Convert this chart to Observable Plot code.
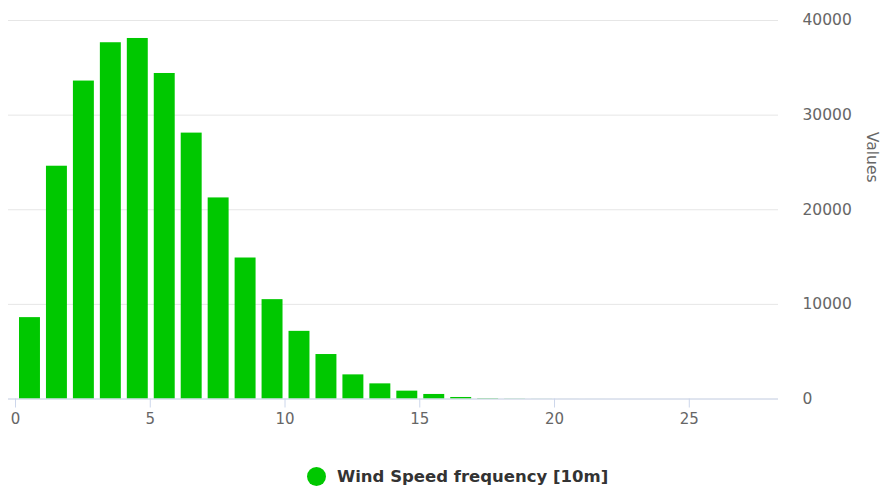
<!DOCTYPE html>
<html>
<head>
<meta charset="utf-8">
<script src="https://cdn.jsdelivr.net/npm/d3@7"></script>
<script src="https://cdn.jsdelivr.net/npm/@observablehq/plot@0.6"></script>
<style>
  html, body { margin: 0; padding: 0; background: #fff; }
  body { width: 887px; height: 493px; overflow: hidden; font-family: "DejaVu Sans", sans-serif; position: relative; }
  #legend { position: absolute; left: 307px; top: 464px; height: 24px; display: flex; align-items: center; font-weight: bold; font-size: 16.5px; color: #333; white-space: nowrap; }
  #legend .dot { width: 19px; height: 19px; border-radius: 50%; background: #00c800; margin-right: 11px; flex: none; }
</style>
</head>
<body>
<div id="chart"></div>
<div id="legend"><span class="dot"></span><span id="legendText"></span></div>
<script>
// Wind speed bins (m/s), lower edge of each 1 m/s bin
const bins = [0,1,2,3,4,5,6,7,8,9,10,11,12,13,14,15,16,17,18,19,20,21,22,23,24,25,26,27];
const counts = [8600,24600,33600,37650,38100,34400,28100,21250,14900,10500,7150,4700,2550,1600,830,480,160,40,15,5,2,1,0,0,0,0,0,0];
const yTicks = [0,10000,20000,30000,40000];
const xTicks = [0,5,10,15,20,25];
const seriesName = "Wind Speed frequency [10m]";
const yLabel = "Values";

document.getElementById("legendText").textContent = seriesName;

const data = bins.map((b, i) => ({x1: b, x2: b + 1, y: counts[i]}));

const chart = Plot.plot({
  width: 887,
  height: 440,
  marginLeft: 8,
  marginRight: 109,
  marginTop: 20,
  marginBottom: 41.5,
  style: {fontFamily: "DejaVu Sans, sans-serif", background: "#fff"},
  x: {domain: [-0.26, 28.31]},
  y: {domain: [0, 40000]},
  marks: [
    Plot.gridY(yTicks, {stroke: "#e6e6e6", strokeOpacity: 1}),
    Plot.rectY(data, {x1: "x1", x2: "x2", y: "y", fill: "#00c800", insetLeft: 4, insetRight: 2}),
    Plot.ruleY([0], {stroke: "#ccd6eb"}),
    Plot.axisX(xTicks, {tickSize: 9, stroke: "#ccd6eb", fill: "#666", fontSize: 15, tickPadding: 5, label: null}),
    Plot.axisY(yTicks, {anchor: "right", tickSize: 0, tickPadding: 24, textAnchor: "start", fill: "#666", fontSize: 15.5, label: null, tickFormat: d => String(d)}),
    Plot.text([yLabel], {frameAnchor: "top-right", dx: 100, dy: 162, rotate: 90, fill: "#666", fontSize: 15.5})
  ]
});
document.getElementById("chart").appendChild(chart);
</script>
</body>
</html>
